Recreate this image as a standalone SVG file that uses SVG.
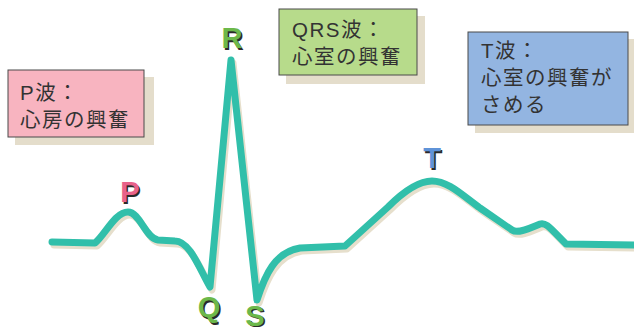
<svg xmlns="http://www.w3.org/2000/svg" width="634" height="334" viewBox="0 0 634 334">
<defs>
<style>
.box{stroke:#4a4a4a;stroke-width:1}
.bshadow{fill:#e4ddcb}
.btxt{font-family:"Liberation Sans","Noto Sans CJK JP",sans-serif;font-size:20.5px;fill:#333;letter-spacing:1.5px}
.wave{fill:none;stroke-width:7;stroke-linecap:round;stroke-linejoin:round}
.lbl{font-family:"Liberation Sans",Arial,sans-serif;font-weight:bold;font-size:29px;text-anchor:middle}
.lsh{fill:#2a2a2a}
</style>
</defs>
<rect width="634" height="334" fill="#ffffff"/>
<g id="connectors">
<path id="ecg-shadow" class="wave" stroke="#e6dfcc" transform="translate(2,3)" d="M52,242 L95,243 C105,235 115,212 128,212 C140,212 145,238 158,240 L175,241 C190,241 200,270 210,287 L231,60 L257,300 C265,275 275,252 300,248 L345,246 L388,207 C405,190 420,181 432,181 C448,181 462,195 480,208 L512,230 C518,234 530,228 540,224 C546,222 550,228 566,244 L634,245"/>
<path id="ecg" class="wave" stroke="#31bfaa" d="M52,242 L95,243 C105,235 115,212 128,212 C140,212 145,238 158,240 L175,241 C190,241 200,270 210,287 L231,60 L257,300 C265,275 275,252 300,248 L345,246 L388,207 C405,190 420,181 432,181 C448,181 462,195 480,208 L512,230 C518,234 530,228 540,224 C546,222 550,228 566,244 L634,245"/>
</g>
<g id="box-p">
<rect class="bshadow" x="15" y="77" width="139" height="68"/>
<rect class="box" x="8" y="70" width="136" height="67" fill="#f8b4c0"/>
<text class="btxt" x="20" y="100">P波：</text>
<text class="btxt" x="20" y="127">心房の興奮</text>
</g>
<g id="box-qrs">
<rect class="bshadow" x="286" y="16" width="139" height="68"/>
<rect class="box" x="279" y="9" width="138" height="66" fill="#b7db8b"/>
<text class="btxt" x="292" y="37">QRS波：</text>
<text class="btxt" x="292" y="64">心室の興奮</text>
</g>
<g id="box-t">
<rect class="bshadow" x="475" y="39" width="159" height="94"/>
<rect class="box" x="468" y="32" width="160" height="93" fill="#93b5e1"/>
<text class="btxt" x="481" y="58">T波：</text>
<text class="btxt" x="481" y="85">心室の興奮が</text>
<text class="btxt" x="481" y="112">さめる</text>
</g>
<g id="label-p">
<text class="lbl lsh" x="131.5" y="203.5">P</text>
<text class="lbl" x="130" y="202" fill="#e8628a">P</text>
</g>
<g id="label-r">
<text class="lbl lsh" x="233.5" y="49.5">R</text>
<text class="lbl" x="232" y="48" fill="#6cb84a">R</text>
</g>
<g id="label-q">
<text class="lbl lsh" x="210.5" y="318.5">Q</text>
<text class="lbl" x="209" y="317" fill="#6cb84a">Q</text>
</g>
<g id="label-s">
<text class="lbl lsh" x="256.5" y="327" font-size="27">S</text>
<text class="lbl" x="255" y="325.5" font-size="27" fill="#6cb84a">S</text>
</g>
<g id="label-t">
<text class="lbl lsh" x="433.5" y="169.5">T</text>
<text class="lbl" x="432" y="168" fill="#5f93d8">T</text>
</g>
</svg>
